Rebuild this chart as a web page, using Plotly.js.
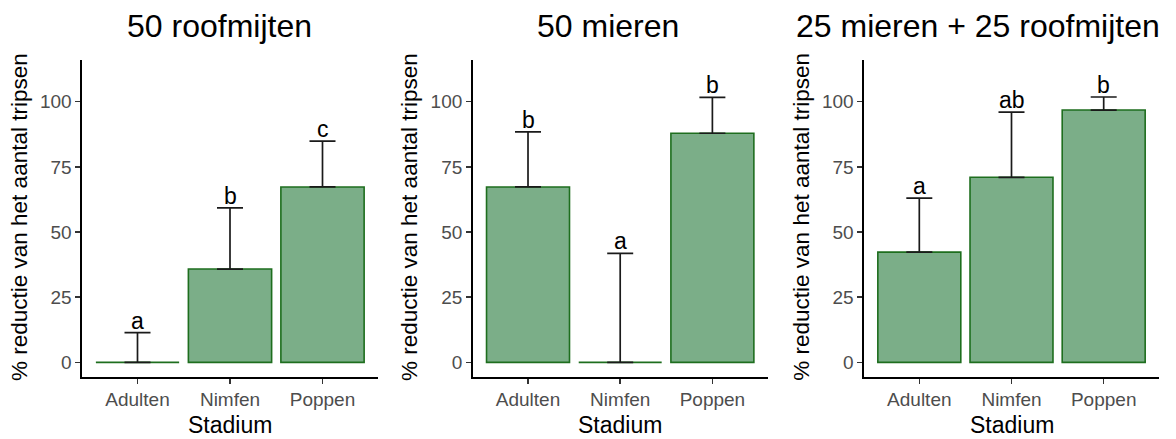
<!DOCTYPE html>
<html>
<head>
<meta charset="utf-8">
<script src="https://cdn.plot.ly/plotly-3.0.1.min.js"></script>
<style>html,body{margin:0;padding:0;background:#fff;}#chart{width:1176px;height:439px;}</style>
</head>
<body>
<div id="chart"></div>
<script>
// ---- data ----
const stadia = ['Adulten', 'Nimfen', 'Poppen'];
const panelTitles = ['50 roofmijten', '50 mieren', '25 mieren + 25 roofmijten'];
const roofmijtenMean = [0, 35.8, 67.3];
const roofmijtenErr = [11.4, 23.5, 17.6];
const roofmijtenLetters = ['a', 'b', 'c'];
const mierenMean = [67.3, 0, 87.9];
const mierenErr = [21.1, 41.8, 13.8];
const mierenLetters = ['b', 'a', 'b'];
const combiMean = [42.3, 71.0, 96.8];
const combiErr = [20.7, 25.0, 5.0];
const combiLetters = ['a', 'ab', 'b'];
const yTicks = [0, 25, 50, 75, 100];
const xTitle = 'Stadium';
const yTitle = '% reductie van het aantal tripsen';

const panels = [
  {mean: roofmijtenMean, err: roofmijtenErr, letters: roofmijtenLetters},
  {mean: mierenMean, err: mierenErr, letters: mierenLetters},
  {mean: combiMean, err: combiErr, letters: combiLetters}
];

// ---- layout geometry ----
const W = 1176, H = 439;
const xDomains = [[82, 378], [472.7, 767.7], [864, 1159]];
const yDom = [(H - 377) / H, (H - 60) / H];
const yTitleX = [20, 410, 801.7];
const titleX = [219, 607.5, 978];

const FONT = 'Liberation Sans, Arial, sans-serif';
const fill = 'rgb(123,174,136)';
const edge = 'rgb(30,110,30)';

const traces = [];
const annotations = [];
const layout = {
  width: W, height: H,
  margin: {l: 0, r: 0, t: 0, b: 0},
  paper_bgcolor: '#fff', plot_bgcolor: '#fff',
  showlegend: false,
  bargap: 0.1,
  font: {family: FONT},
  annotations: annotations
};

panels.forEach((p, i) => {
  const n = i === 0 ? '' : String(i + 1);
  traces.push({
    type: 'bar',
    x: stadia,
    y: p.mean,
    xaxis: 'x' + n, yaxis: 'y' + n,
    marker: {color: fill, line: {color: edge, width: 1.6}},
    error_y: {
      type: 'data', symmetric: false,
      array: p.err,
      arrayminus: p.err.map(() => 0),
      color: '#1a1a1a', thickness: 1.7, width: 13
    },
    hoverinfo: 'none'
  });
  const d = xDomains[i];
  layout['xaxis' + n] = {
    domain: [d[0] / W, d[1] / W],
    anchor: 'y' + n,
    range: [-0.6, 2.6],
    showgrid: false, zeroline: false,
    showline: true, linecolor: '#000', linewidth: 1.6,
    ticks: 'outside', ticklen: 5, tickwidth: 1.5, tickcolor: '#333',
    tickfont: {size: 19, color: '#4d4d4d', family: FONT},
    fixedrange: true
  };
  layout['yaxis' + n] = {
    domain: yDom,
    anchor: 'x' + n,
    range: [-5.6, 116],
    tickvals: yTicks,
    showgrid: false, zeroline: false,
    showline: true, linecolor: '#000', linewidth: 1.6,
    ticks: 'outside', ticklen: 5, tickwidth: 1.5, tickcolor: '#333',
    tickfont: {size: 19, color: '#4d4d4d', family: FONT},
    fixedrange: true
  };
  // letters
  p.letters.forEach((L, k) => {
    annotations.push({
      xref: 'x' + n, yref: 'y' + n,
      x: stadia[k], y: p.mean[k] + p.err[k],
      text: L, showarrow: false,
      yanchor: 'bottom', yshift: -3,
      font: {size: 23, color: '#000', family: FONT}
    });
  });
  // panel title
  annotations.push({
    xref: 'paper', yref: 'paper',
    x: titleX[i] / W, y: (H - 26) / H,
    xanchor: 'center', yanchor: 'middle',
    text: panelTitles[i], showarrow: false,
    font: {size: 32, color: '#000', family: FONT}
  });
  // axis titles
  annotations.push({
    xref: 'paper', yref: 'paper',
    x: (d[0] + d[1]) / 2 / W, y: (H - 425) / H,
    xanchor: 'center', yanchor: 'middle',
    text: xTitle, showarrow: false,
    font: {size: 23, color: '#000', family: FONT}
  });
  annotations.push({
    xref: 'paper', yref: 'paper',
    x: yTitleX[i] / W, y: (H - 217) / H,
    xanchor: 'center', yanchor: 'middle',
    text: yTitle, textangle: -90, showarrow: false,
    font: {size: 22.5, color: '#000', family: FONT}
  });
});

Plotly.newPlot('chart', traces, layout, {displayModeBar: false, staticPlot: true});
</script>
</body>
</html>
